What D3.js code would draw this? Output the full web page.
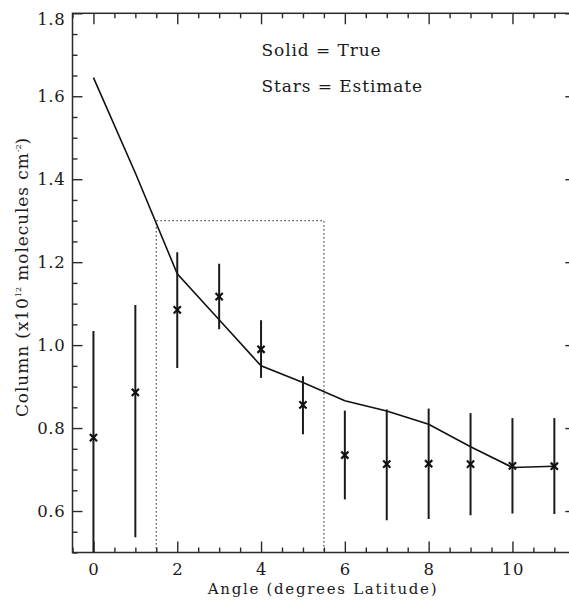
<!DOCTYPE html>
<html>
<head>
<meta charset="utf-8">
<script src="https://cdn.jsdelivr.net/npm/d3@7"></script>
<style>
  html, body { margin: 0; padding: 0; background: #fff; }
</style>
</head>
<body>
<div id="chart"></div>
<script>
// Latitude angles (degrees)
const angles = [0, 1, 2, 3, 4, 5, 6, 7, 8, 9, 10, 11];
// True column (solid line), x10^12 molecules cm^-2
const trueColumn = [1.645, 1.415, 1.172, 1.061, 0.950, 0.910, 0.866, 0.841, 0.809, 0.755, 0.705, 0.708];
// Estimated column (stars) with error-bar limits
const estColumn = [0.777, 0.886, 1.085, 1.117, 0.990, 0.856, 0.735, 0.713, 0.714, 0.713, 0.709, 0.708];
const estUpper  = [1.034, 1.097, 1.224, 1.196, 1.060, 0.925, 0.842, 0.845, 0.847, 0.836, 0.824, 0.824];
const estLower  = [0.490, 0.537, 0.945, 1.038, 0.921, 0.785, 0.628, 0.578, 0.581, 0.590, 0.594, 0.593];
// Dotted region: angle span and column level
const regionAngles = [1.5, 5.5];
const regionLevel = 1.3;
// Axis ticks
const xMajorTicks = [0, 2, 4, 6, 8, 10];
const yMajorTicks = [0.6, 0.8, 1.0, 1.2, 1.4, 1.6, 1.8];
const xDomain = [-0.5, 11.5];
const yDomain = [0.5, 1.8];
const legendLines = ["Solid = True", "Stars = Estimate"];

const W = 569, H = 603;
const plotLeft = 72.5, plotRight = 575.3, plotTop = 13.3, plotBottom = 552.5;
const FONT = "'DejaVu Serif', 'Liberation Serif', serif";
const textColor = "#1a1a1a";
const tickFontSize = 16.5;

const svg = d3.select("#chart").append("svg")
  .attr("width", W).attr("height", H);

const x = d3.scaleLinear().domain(xDomain).range([plotLeft, plotRight]);
const y = d3.scaleLinear().domain(yDomain).range([plotBottom, plotTop]);

const xMinor = d3.range(-0.5, 11.5001, 0.5).filter(v => !xMajorTicks.some(t => Math.abs(t - v) < 1e-6));
const yMinor = d3.range(0.5, 1.8001, 0.05).map(v => +v.toFixed(2)).filter(v => !yMajorTicks.some(t => Math.abs(t - v) < 1e-6));

const axisColor = "#2a2a2a";
function styleAxis(g) {
  g.attr("font-family", FONT).attr("font-size", tickFontSize);
  g.select(".domain").remove();
  g.selectAll(".tick line").attr("stroke", axisColor).attr("stroke-width", 1.4);
  g.selectAll(".tick text")
    .attr("font-family", FONT).attr("font-size", tickFontSize)
    .attr("letter-spacing", 0.7).attr("fill", textColor);
}

// Bottom axis (labelled)
svg.append("g").attr("transform", `translate(0,${plotBottom})`)
  .call(d3.axisBottom(x).tickValues(xMajorTicks).tickSize(-11).tickSizeOuter(0).tickPadding(10.8).tickFormat(d3.format("d")))
  .call(styleAxis);
svg.append("g").attr("transform", `translate(0,${plotBottom})`)
  .call(d3.axisBottom(x).tickValues(xMinor).tickSize(-5).tickSizeOuter(0).tickFormat(""))
  .call(styleAxis);
// Top axis (ticks only)
svg.append("g").attr("transform", `translate(0,${plotTop})`)
  .call(d3.axisTop(x).tickValues(xMajorTicks).tickSize(-11).tickSizeOuter(0).tickFormat(""))
  .call(styleAxis);
svg.append("g").attr("transform", `translate(0,${plotTop})`)
  .call(d3.axisTop(x).tickValues(xMinor).tickSize(-5).tickSizeOuter(0).tickFormat(""))
  .call(styleAxis);
// Left axis (labelled)
const yAxisG = svg.append("g").attr("transform", `translate(${plotLeft},0)`)
  .call(d3.axisLeft(y).tickValues(yMajorTicks).tickSize(-10).tickSizeOuter(0).tickPadding(7).tickFormat(d3.format(".1f")))
  .call(styleAxis);
// keep the topmost label inside the frame's height
yAxisG.selectAll(".tick text").filter(d => d === yDomain[1]).attr("dy", "0.75em").attr("y", -1);
svg.append("g").attr("transform", `translate(${plotLeft},0)`)
  .call(d3.axisLeft(y).tickValues(yMinor).tickSize(-5).tickSizeOuter(0).tickFormat(""))
  .call(styleAxis);
// Right axis (ticks only)
svg.append("g").attr("transform", `translate(${plotRight},0)`)
  .call(d3.axisRight(y).tickValues(yMajorTicks).tickSize(-10).tickSizeOuter(0).tickFormat(""))
  .call(styleAxis);
svg.append("g").attr("transform", `translate(${plotRight},0)`)
  .call(d3.axisRight(y).tickValues(yMinor).tickSize(-5).tickSizeOuter(0).tickFormat(""))
  .call(styleAxis);

// Frame
svg.append("rect")
  .attr("x", plotLeft).attr("y", plotTop)
  .attr("width", plotRight - plotLeft).attr("height", plotBottom - plotTop)
  .attr("fill", "none").attr("stroke", axisColor).attr("stroke-width", 1.5);

svg.append("clipPath").attr("id", "plot-clip")
  .append("rect").attr("x", plotLeft).attr("y", plotTop)
  .attr("width", plotRight - plotLeft).attr("height", plotBottom - plotTop);

const plot = svg.append("g").attr("clip-path", "url(#plot-clip)");

// Dotted region outline
plot.append("path")
  .attr("d", d3.line()([
    [x(regionAngles[0]), y(yDomain[0])],
    [x(regionAngles[0]), y(regionLevel)],
    [x(regionAngles[1]), y(regionLevel)],
    [x(regionAngles[1]), y(yDomain[0])]
  ]))
  .attr("fill", "none").attr("stroke", "#333").attr("stroke-width", 1.3)
  .attr("stroke-dasharray", "1.3,2.7");

// True column line
plot.append("path")
  .datum(angles.map((a, i) => [a, trueColumn[i]]))
  .attr("d", d3.line().x(d => x(d[0])).y(d => y(d[1])))
  .attr("fill", "none").attr("stroke", "#111").attr("stroke-width", 1.6);

// Error bars
plot.selectAll("line.err").data(angles).join("line")
  .attr("class", "err")
  .attr("x1", d => x(d)).attr("x2", d => x(d))
  .attr("y1", (d, i) => y(estUpper[i])).attr("y2", (d, i) => y(estLower[i]))
  .attr("stroke", "#1a1a1a").attr("stroke-width", 2);

// Star (x) markers
const s = 3.6;
const marks = plot.selectAll("g.star").data(angles).join("g")
  .attr("class", "star")
  .attr("transform", (d, i) => `translate(${x(d)},${y(estColumn[i])})`);
marks.append("path")
  .attr("d", `M${-s},${-s}L${s},${s}M${-s},${s}L${s},${-s}`)
  .attr("stroke", "#111").attr("stroke-width", 2.2).attr("fill", "none");

// Legend text
svg.selectAll("text.legend").data(legendLines).join("text")
  .attr("class", "legend")
  .attr("x", 261.5).attr("y", (d, i) => 56 + i * 36)
  .attr("font-family", FONT).attr("font-size", 17)
  .attr("letter-spacing", 0.9).attr("fill", textColor)
  .text(d => d);

// X axis title
svg.append("text")
  .attr("x", 323).attr("y", 593.5)
  .attr("text-anchor", "middle")
  .attr("font-family", FONT).attr("font-size", 15)
  .attr("letter-spacing", 1.7).attr("fill", textColor)
  .text("Angle (degrees Latitude)");

// Y axis title
const yt = svg.append("text")
  .attr("transform", `translate(28,277) rotate(-90)`)
  .attr("text-anchor", "middle")
  .attr("font-family", FONT).attr("font-size", 17)
  .attr("letter-spacing", 0.9).attr("fill", textColor);
yt.append("tspan").text("Column (x10");
yt.append("tspan").attr("dy", -7).attr("font-size", 8).attr("letter-spacing", 0).text("12");
yt.append("tspan").attr("dy", 7).text(" molecules cm");
yt.append("tspan").attr("dy", -7).attr("font-size", 8).attr("letter-spacing", 0).text("-2");
yt.append("tspan").attr("dy", 7).text(")");
</script>
</body>
</html>
